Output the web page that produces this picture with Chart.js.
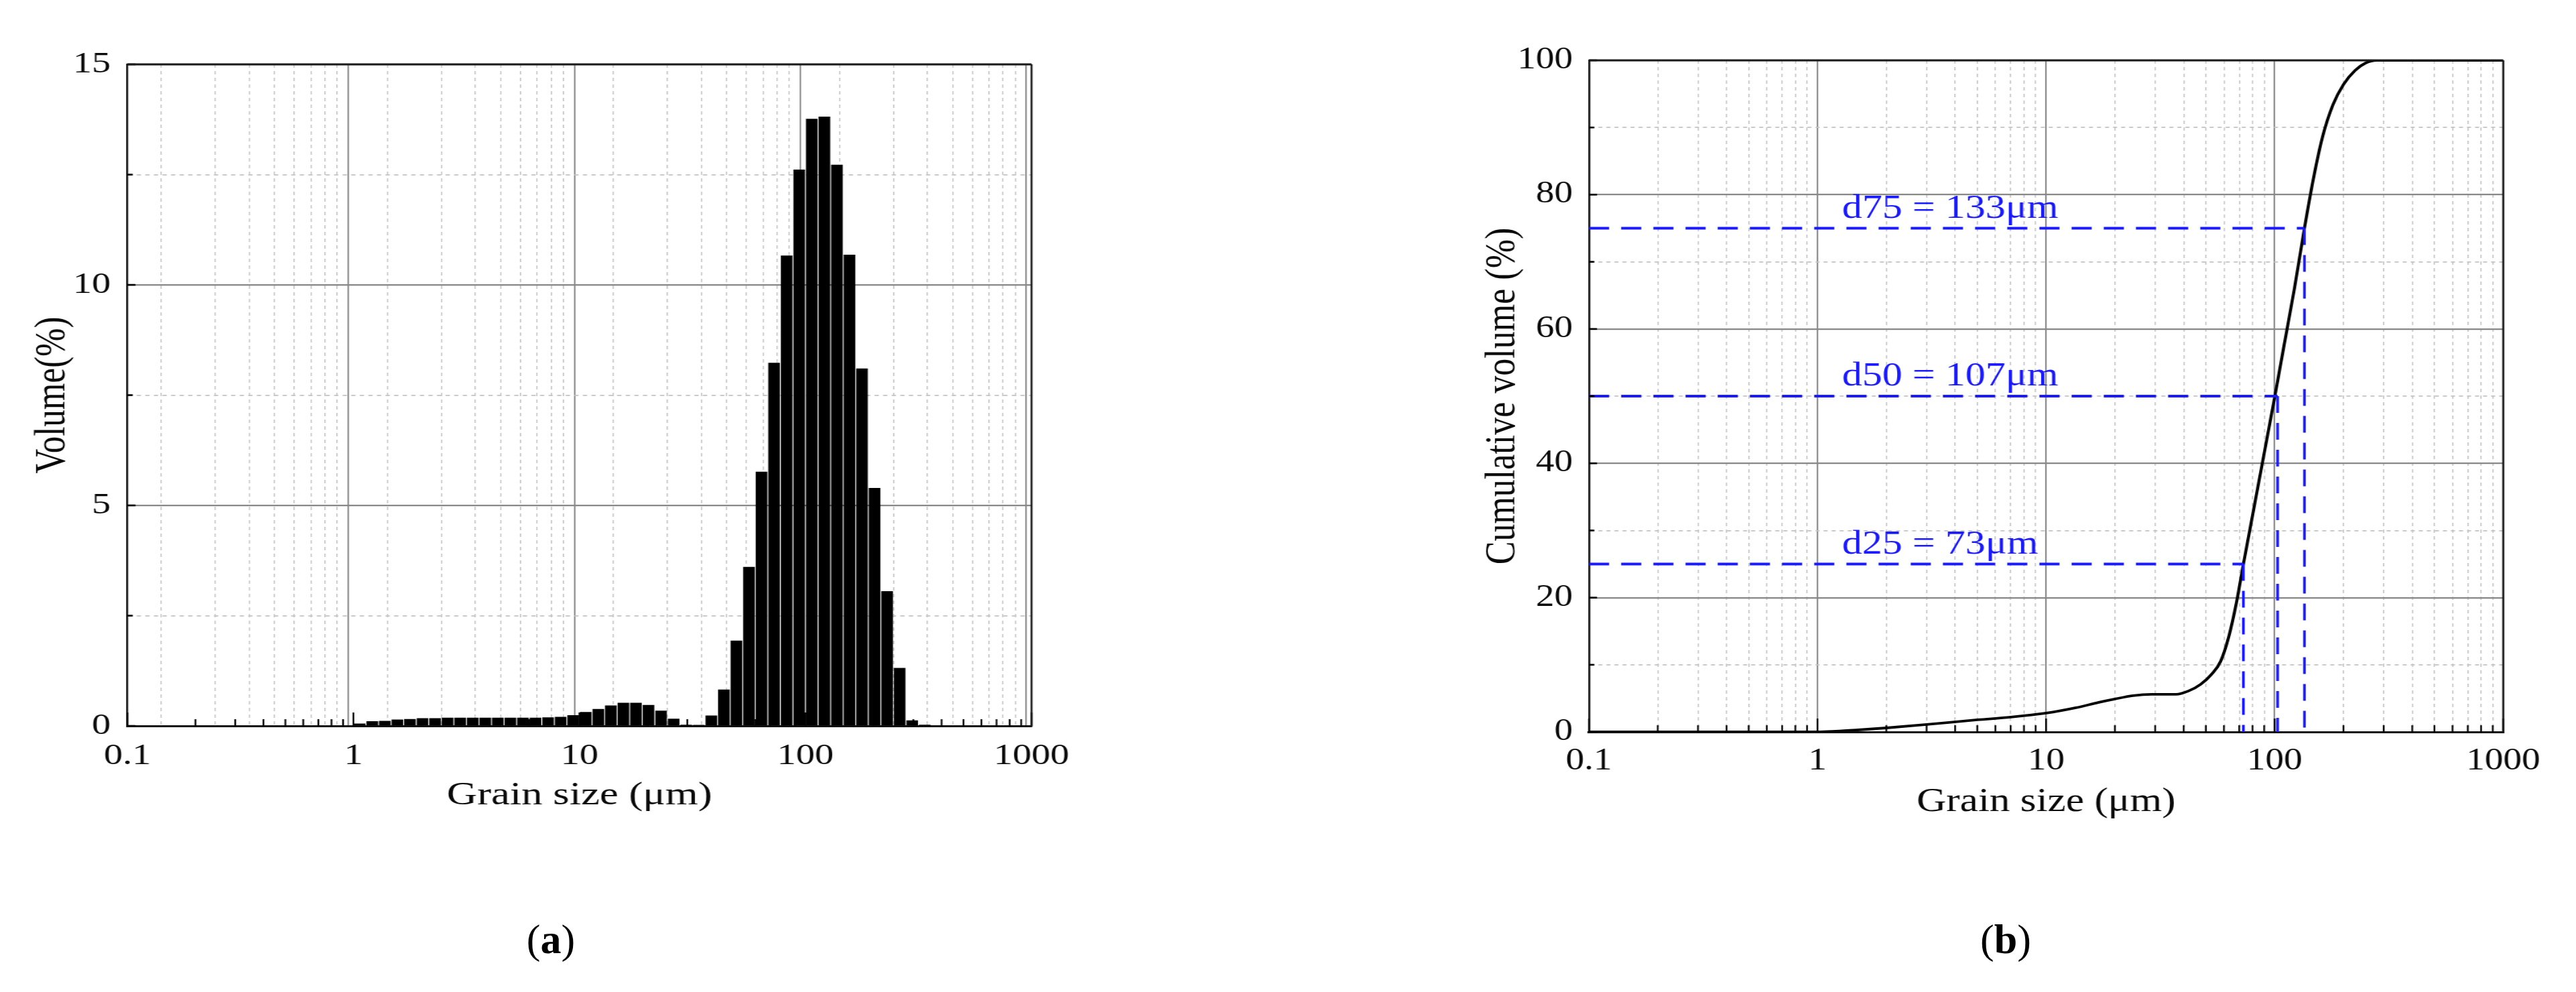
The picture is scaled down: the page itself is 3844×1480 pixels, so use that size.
<!DOCTYPE html>
<html>
<head>
<meta charset="utf-8">
<script src="https://cdn.jsdelivr.net/npm/chart.js@4.4.0/dist/chart.umd.min.js"></script>
<style>
html, body { margin: 0; padding: 0; background: #fff; }
body { width: 3844px; height: 1480px; position: relative; overflow: hidden; }
canvas { position: absolute; }
.rotulo { position: absolute; font-family: "Liberation Serif", serif; font-size: 62px; color: #000;
          transform: translate(-50%, -50%); line-height: 1; }
</style>
</head>
<body>
<canvas id="grafVolumen"></canvas>
<canvas id="grafAcumulado"></canvas>
<div class="rotulo" style="left:822px; top:1401px">(<b>a</b>)</div>
<div class="rotulo" style="left:2993px; top:1401px">(<b>b</b>)</div>
<script>
// datos
const binCenters = [
  1.066, 1.212, 1.377, 1.565, 1.778, 2.021, 2.297, 2.610, 2.966, 3.371, 3.831, 4.354, 4.948, 5.623, 6.390, 7.262, 8.254, 9.380,
  10.66, 12.12, 13.77, 15.65, 17.78, 20.21, 22.97, 26.10, 29.66, 33.71, 38.31, 43.54, 49.48, 56.23, 63.90, 72.62, 82.54, 93.80,
  106.6, 121.2, 137.7, 156.5, 177.8, 202.1, 229.7, 261.0, 296.6, 337.1
];
const volume = [
  0.05, 0.10, 0.11, 0.14, 0.15, 0.17, 0.17, 0.18, 0.18, 0.18, 0.18, 0.18, 0.18, 0.18, 0.18, 0.19, 0.20, 0.24,
  0.31, 0.38, 0.46, 0.52, 0.52, 0.47, 0.34, 0.16, 0.02, 0.01, 0.23, 0.82, 1.93, 3.60, 5.76, 8.23, 10.66, 12.61,
  13.76, 13.81, 12.72, 10.68, 8.10, 5.39, 3.05, 1.31, 0.12, 0.02
];
const cumSize = [0.1, 1, 1.2, 1.5, 2, 3, 5, 7, 10, 13.5, 17, 20, 24, 29, 37, 42, 47.5, 53, 58, 63, 68, 73, 80, 90, 100, 110, 122, 135, 148, 162, 180, 200, 225, 250, 280, 1000];
const cumVolume = [0, 0, 0.1, 0.3, 0.6, 1.1, 1.8, 2.2, 2.8, 3.6, 4.4, 4.9, 5.4, 5.6, 5.6, 6.1, 7.1, 8.6, 10.5, 14.2, 19.2, 25, 32.2, 41.5, 49.8, 57.6, 66, 75, 82.5, 88.6, 93.4, 96.4, 98.5, 99.6, 100, 100];

const dLabels = ['d25 = 73μm', 'd50 = 107μm', 'd75 = 133μm'];
const dSize = [73, 103, 135];
const dPercent = [25, 50, 75];
const dLabelX = 1.28;

const xTicks = [0.1, 1, 10, 100, 1000];
const gridX = [0.1, 0.2, 0.3, 0.4, 0.5, 0.6, 0.7, 0.8, 0.9,
  1, 2, 3, 4, 5, 6, 7, 8, 9,
  10, 20, 30, 40, 50, 60, 70, 80, 90,
  100, 200, 300, 400, 500, 600, 700, 800, 900, 1000];

const FUENTE = '"Liberation Serif", "Times New Roman", serif';
const AZUL = '#1a1aff';

// lienzo estirado en horizontal como la figura original
function montarLienzo(id, left, w, h, sx) {
  const c = document.getElementById(id);
  c.width = Math.round(w / sx);
  c.height = h;
  c.style.left = left + 'px';
  c.style.top = '0px';
  c.style.width = w + 'px';
  c.style.height = h + 'px';
  return c;
}

function marcasYMarco(sx, esMayorY) {
  return {
    id: 'marcasYMarco',
    afterDatasetsDraw(chart) {
      const {ctx, chartArea: a, scales: {x, y}} = chart;
      ctx.save();
      ctx.strokeStyle = '#000';
      ctx.lineWidth = 2.6 / sx;
      x.ticks.forEach(t => {
        const px = x.getPixelForValue(t.value);
        const l = xTicks.includes(t.value) ? 20 : 10;
        ctx.beginPath(); ctx.moveTo(px, a.bottom); ctx.lineTo(px, a.bottom - l); ctx.stroke();
      });
      ctx.lineWidth = 2.6;
      y.ticks.forEach(t => {
        const py = y.getPixelForValue(t.value);
        const l = (esMayorY(t.value) ? 12 : 8) / sx;
        ctx.beginPath(); ctx.moveTo(a.left, py); ctx.lineTo(a.left + l, py); ctx.stroke();
      });
      // marco superior y derecho
      ctx.strokeStyle = '#1a1a1a';
      ctx.lineWidth = 2.8;
      ctx.beginPath(); ctx.moveTo(a.left, a.top); ctx.lineTo(a.right, a.top); ctx.stroke();
      ctx.lineWidth = 2.8 / sx;
      ctx.beginPath(); ctx.moveTo(a.right, a.top); ctx.lineTo(a.right, a.bottom + 1.5); ctx.stroke();
      ctx.restore();
    }
  };
}

function ejeX(sx, alto, padTick, fuenteTick, fuenteTitulo, padTitulo) {
  return {
    type: 'logarithmic', min: 0.1, max: 1000,
    afterBuildTicks: s => { s.ticks = gridX.map(v => ({value: v})); },
    afterFit: s => { s.height = alto; },
    ticks: {
      autoSkip: false, maxRotation: 0, padding: padTick, color: '#0a0a0a',
      font: {family: FUENTE, size: fuenteTick, lineHeight: 1},
      callback: v => xTicks.includes(v) ? String(v) : ''
    },
    grid: {
      drawTicks: false,
      color: c => c.tick && xTicks.includes(c.tick.value) ? '#888' : '#c4c4c4',
      lineWidth: c => (c.tick && xTicks.includes(c.tick.value) ? 2.2 : 1.8) / sx
    },
    border: {
      color: '#111', width: 3,
      dash: c => (c.tick && !xTicks.includes(c.tick.value)) ? [5, 5] : []
    },
    title: {
      display: true, text: 'Grain size (μm)', color: '#0a0a0a',
      font: {family: FUENTE, size: fuenteTitulo, lineHeight: 1},
      padding: {top: 0, bottom: padTitulo}
    }
  };
}

function ejeY(sx, ancho, max, paso, esMayor, padTick, fuenteTick, texto, fuenteTitulo, padTitulo) {
  return {
    type: 'linear', min: 0, max: max,
    afterFit: s => { s.width = ancho; },
    ticks: {
      stepSize: paso, padding: padTick, color: '#0a0a0a',
      font: {family: FUENTE, size: fuenteTick, lineHeight: 1},
      callback: v => esMayor(v) ? String(v) : ''
    },
    grid: {
      drawTicks: false,
      color: c => c.tick && esMayor(c.tick.value) ? '#888' : '#c4c4c4',
      lineWidth: c => (c.tick && esMayor(c.tick.value) ? 2.2 : 1.8)
    },
    border: {
      color: '#111', width: 3 / sx,
      dash: c => (c.tick && !esMayor(c.tick.value)) ? [5, 5] : []
    },
    title: {
      display: true, text: texto, color: '#0a0a0a',
      font: {family: FUENTE, size: fuenteTitulo, lineHeight: 1},
      padding: {top: padTitulo, bottom: 0}
    }
  };
}

// GRAFICO (a): DISTRIBUCION DE VOLUMEN
function dibujarHistograma() {
  const sx = 1.28;
  const c = montarLienzo('grafVolumen', 0, 1800, 1300, sx);
  const mayorY = v => v % 5 === 0;
  new Chart(c, {
    type: 'bar',
    data: {
      datasets: [{
        data: binCenters.map((v, i) => ({x: v, y: volume[i]})),
        backgroundColor: '#000',
        borderWidth: 0,
        barThickness: 16.5 / sx
      }]
    },
    options: {
      responsive: false, animation: false, events: [],
      layout: {padding: {left: 0, top: 96, right: c.width - 1539 / sx, bottom: 0}},
      plugins: {legend: {display: false}, tooltip: {enabled: false}},
      scales: {
        x: ejeX(sx, 1300 - 1083, 23, 44, 49, 88),
        y: ejeY(sx, 190 / sx, 15, 2.5, mayorY, 25 / sx, 44, 'Volume(%)', 51, 36)
      }
    },
    plugins: [marcasYMarco(sx, mayorY)]
  });
}

// GRAFICO (b): VOLUMEN ACUMULADO
function dibujarAcumulado() {
  const sx = 1.2;
  const left = 2100;
  const c = montarLienzo('grafAcumulado', left, 1744, 1300, sx);
  const mayorY = v => v % 20 === 0;
  const guias = {
    id: 'guiasD',
    afterDatasetsDraw(chart) {
      const {ctx, scales: {x, y}} = chart;
      ctx.save();
      ctx.strokeStyle = AZUL;
      ctx.setLineDash([25, 15]);
      dPercent.forEach((p, i) => {
        const px = x.getPixelForValue(dSize[i]);
        const py = y.getPixelForValue(p);
        ctx.lineWidth = 4;
        ctx.beginPath(); ctx.moveTo(x.left, py); ctx.lineTo(px, py); ctx.stroke();
        ctx.lineWidth = 4 / sx;
        ctx.beginPath(); ctx.moveTo(px, py); ctx.lineTo(px, y.bottom); ctx.stroke();
      });
      ctx.setLineDash([]);
      ctx.fillStyle = AZUL;
      ctx.font = '50px ' + FUENTE;
      ctx.textAlign = 'left';
      ctx.textBaseline = 'middle';
      dPercent.forEach((p, i) => {
        ctx.fillText(dLabels[i], x.getPixelForValue(dLabelX), y.getPixelForValue(p) - 29);
      });
      ctx.restore();
    }
  };
  new Chart(c, {
    type: 'line',
    data: {
      datasets: [{
        data: cumSize.map((v, i) => ({x: v, y: cumVolume[i]})),
        borderColor: '#000',
        borderWidth: 3.8,
        pointRadius: 0,
        cubicInterpolationMode: 'monotone',
        fill: false
      }]
    },
    options: {
      responsive: false, animation: false, events: [],
      layout: {padding: {left: 0, top: 90, right: c.width - (3735 - left) / sx, bottom: 0}},
      plugins: {legend: {display: false}, tooltip: {enabled: false}},
      scales: {
        x: ejeX(sx, 1300 - 1092, 21, 46, 51, 78),
        y: ejeY(sx, (2371 - left) / sx, 100, 10, mayorY, 24 / sx, 46, 'Cumulative volume (%)', 52, 93)
      }
    },
    plugins: [guias, marcasYMarco(sx, mayorY)]
  });
}

//INVOCACION DE FUNCIONES
dibujarHistograma();
dibujarAcumulado();
</script>
</body>
</html>
